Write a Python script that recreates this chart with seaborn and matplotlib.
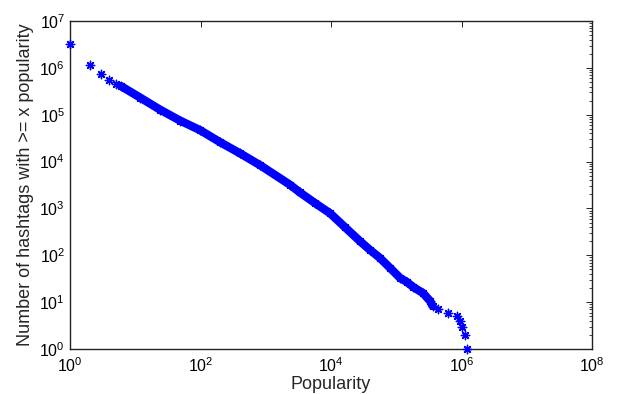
import matplotlib
matplotlib.use("Agg")
import matplotlib.pyplot as plt
import matplotlib.ticker as mticker
import seaborn as sns
import pandas as pd

# Sparse head points (individual asterisks)
head_x = [1, 2, 3, 4, 5]
head_y = [3.3e6, 1.14e6, 7.3e5, 5.4e5, 4.5e5]

# Dense body (overlapping asterisks forming a thick band)
body_x = [6, 12, 24, 48.5, 98, 199, 403, 815, 2350, 3330, 5690, 9660,
          1.63e4, 2.78e4, 3.96e4, 5.6e4, 8.0e4, 1.14e5, 1.45e5, 1.82e5,
          2.57e5, 3.3e5, 3.6e5]
body_y = [4.1e5, 2.3e5, 1.28e5, 7.5e4, 4.7e4, 2.6e4, 1.5e4, 8.4e3, 3.2e3,
          2.2e3, 1.3e3, 790, 400, 200, 130, 88, 54, 33, 27, 21, 15.6,
          10.6, 8.3]

# Sparse tail points
tail_x = [4.4e5, 6.3e5, 8.5e5, 9.5e5, 1.0e6, 1.15e6, 1.2e6]
tail_y = [7, 6, 5, 4, 3, 2, 1]

x_ticks = [1e0, 1e2, 1e4, 1e6, 1e8]
x_label = "Popularity"
y_label = "Number of hashtags with >= x popularity"

sns.set_style("white")
plt.rcParams["font.family"] = ["Liberation Sans", "DejaVu Sans"]
plt.rcParams["mathtext.default"] = "regular"

fig = plt.figure(figsize=(6.18, 3.94), dpi=100)
ax = fig.add_axes([70 / 618, 45 / 394, 522 / 618, 328 / 394])

blue = (0, 0, 1)
star = (8, 2, 0)

body = pd.DataFrame({"x": body_x, "y": body_y})
pts = pd.DataFrame({"x": head_x + body_x + tail_x, "y": head_y + body_y + tail_y})

sns.lineplot(data=body, x="x", y="y", ax=ax, color=blue, linewidth=6.0,
             solid_capstyle="round", solid_joinstyle="round", sort=False)
sns.scatterplot(data=pts, x="x", y="y", ax=ax, color=blue, marker=star,
                s=36, linewidth=1.0, edgecolor=blue, clip_on=False, zorder=3)

ax.set_xscale("log")
ax.set_yscale("log")
ax.set_xlim(1, 1e8)
ax.set_ylim(1, 1e7)

ax.xaxis.set_major_locator(mticker.FixedLocator(x_ticks))
ax.xaxis.set_minor_locator(mticker.NullLocator())
ax.xaxis.set_major_formatter(mticker.LogFormatterMathtext())
ax.yaxis.set_major_locator(mticker.LogLocator(base=10, numticks=20))
ax.yaxis.set_minor_locator(mticker.LogLocator(base=10, subs=range(2, 10), numticks=20))
ax.yaxis.set_minor_formatter(mticker.NullFormatter())
ax.yaxis.set_major_formatter(mticker.LogFormatterMathtext())

ax.tick_params(axis="both", which="both", direction="in", top=True, right=True,
               colors="#222222", labelcolor="black", labelsize=11.5)
ax.tick_params(which="major", length=4, width=0.7)
ax.tick_params(which="minor", length=2, width=0.6)
ax.tick_params(axis="x", pad=5)

for s in ax.spines.values():
    s.set_color("#222222")
    s.set_linewidth(1.0)

ax.set_xlabel(x_label, fontsize=13, labelpad=1)
ax.set_ylabel(y_label, fontsize=13, labelpad=4)

fig.savefig("out.png", dpi=100, facecolor="white")
